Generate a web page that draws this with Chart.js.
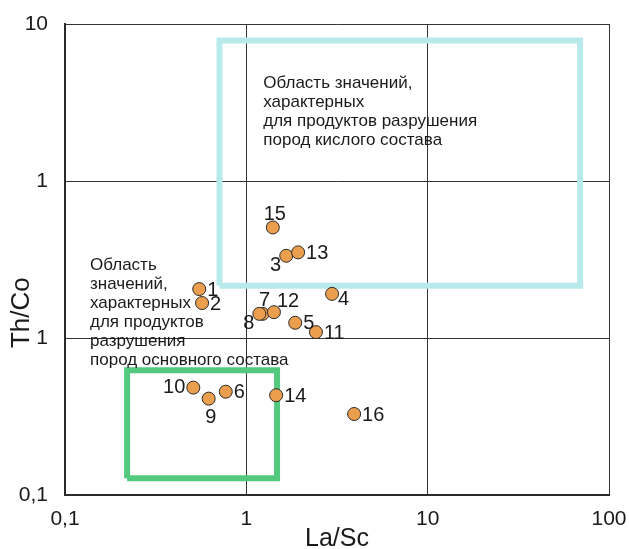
<!DOCTYPE html>
<html>
<head>
<meta charset="utf-8">
<script src="https://cdn.jsdelivr.net/npm/chart.js@4.4.1/dist/chart.umd.min.js"></script>
<style>
  html, body { margin: 0; padding: 0; background: #fff; }
  #wrap { width: 629px; height: 549px; }
</style>
</head>
<body>
<div id="wrap"><canvas id="grafico"></canvas></div>
<script>
  // Номера проб и значения La/Sc, Th/Co
  const nombres = ["1", "2", "3", "4", "5", "6", "7", "8", "9", "10", "11", "12", "13", "14", "15", "16"];
  const laSc = [0.55, 0.57, 1.66, 2.97, 1.86, 0.77, 1.23, 1.18, 0.62, 0.51, 2.42, 1.42, 1.93, 1.46, 1.40, 3.93];
  const thCo = [0.205, 0.167, 0.334, 0.191, 0.125, 0.0455, 0.1425, 0.1425, 0.0411, 0.0483, 0.109, 0.146, 0.351, 0.0432, 0.506, 0.0328];
  // где подписать номер относительно точки
  const lugar = ["r", "r", "lb", "rb", "r", "r", "a", "lb", "b", "l", "r", "ra", "r", "r", "a", "r"];

  // Деления осей
  const xTicks = [0.1, 1, 10, 100];
  const xEtiquetas = ["0,1", "1", "10", "100"];
  const yTicks = [0.01, 0.1, 1, 10];
  const yEtiquetas = ["0,1", "1", "1", "10"];

  // Области (углы прямоугольников)
  const acidoX = [0.711, 69.3];
  const acidoY = [0.215, 7.85];
  const basicoX = [0.22, 1.477];
  const basicoY = [0.0128, 0.0624];

  const textoAcido = ["Область значений,", "характерных", "для продуктов разрушения", "пород кислого состава"];
  const textoBasico = ["Область", "значений,", "характерных", "для продуктов", "разрушения", "пород основного состава"];

  function rect(xs, ys) {
    return [
      { x: xs[0], y: ys[0] }, { x: xs[1], y: ys[0] },
      { x: xs[1], y: ys[1] }, { x: xs[0], y: ys[1] },
      { x: xs[0], y: ys[0] }
    ];
  }

  const fuente = "'Liberation Sans', Arial, sans-serif";

  const offsets = {
    r: [8, 1, "left"],
    l: [-8, 0, "right"],
    a: [2, -13, "center"],
    b: [2, 19, "center"],
    lb: [-5, 10, "right"],
    rb: [6, 6, "left"],
    ra: [3, -11, "left"]
  };

  const etiquetasPlugin = {
    id: "etiquetas",
    afterDraw(chart) {
      const ctx = chart.ctx;
      const xs = chart.scales.x;
      const ys = chart.scales.y;
      ctx.save();
      ctx.fillStyle = "#1a1a1a";
      ctx.textBaseline = "middle";
      ctx.font = "20px " + fuente;
      for (let i = 0; i < nombres.length; i++) {
        const px = xs.getPixelForValue(laSc[i]);
        const py = ys.getPixelForValue(thCo[i]);
        const o = offsets[lugar[i]];
        ctx.textAlign = o[2];
        ctx.fillText(nombres[i], px + o[0], py + o[1]);
      }
      // подписи областей
      ctx.font = "17px " + fuente;
      ctx.textAlign = "left";
      ctx.textBaseline = "alphabetic";
      let x0 = xs.getPixelForValue(1.24);
      let y0 = ys.getPixelForValue(3.92);
      textoAcido.forEach((t, k) => ctx.fillText(t, x0, y0 + k * 19));
      x0 = xs.getPixelForValue(0.1374);
      y0 = ys.getPixelForValue(0.2716);
      textoBasico.forEach((t, k) => ctx.fillText(t, x0, y0 + k * 19));

      // подпись оси Y
      ctx.font = "26px " + fuente;
      ctx.textAlign = "center";
      ctx.textBaseline = "middle";
      ctx.translate(22, ys.getPixelForValue(0.145));
      ctx.rotate(-Math.PI / 2);
      ctx.fillText("Th/Co", 0, 0);
      ctx.restore();
    }
  };

  function grafico() {
    const ctx = document.getElementById("grafico");
    const puntos = laSc.map((v, i) => ({ x: v, y: thCo[i] }));

    new Chart(ctx, {
      type: "scatter",
      data: {
        datasets: [
          {
            label: "кислые",
            data: rect(acidoX, acidoY),
            showLine: true,
            borderColor: "rgb(184, 234, 236)",
            borderWidth: 6,
            pointRadius: 0,
            fill: false,
            order: 3
          },
          {
            label: "основные",
            data: rect(basicoX, basicoY),
            showLine: true,
            borderColor: "rgb(82, 201, 125)",
            borderWidth: 6,
            pointRadius: 0,
            fill: false,
            order: 2
          },
          {
            label: "пробы",
            data: puntos,
            backgroundColor: "rgb(234, 158, 78)",
            borderColor: "#2a2a2a",
            borderWidth: 1,
            pointRadius: 6.5,
            order: 1
          }
        ]
      },
      options: {
        responsive: true,
        maintainAspectRatio: false,
        animation: false,
        layout: { padding: { top: 24, right: 20, left: 0, bottom: 0 } },
        plugins: {
          legend: { display: false },
          tooltip: { enabled: false }
        },
        scales: {
          x: {
            type: "logarithmic",
            min: 0.1,
            max: 100,
            z: 1,
            afterBuildTicks: (s) => { s.ticks = xTicks.map((v) => ({ value: v })); },
            afterFit: (s) => {
              s.height = 54;
              s.paddingLeft = 0;
              s.paddingRight = 0;
            },
            ticks: {
              autoSkip: false,
              maxRotation: 0,
              padding: 12,
              color: "#1a1a1a",
              font: { family: fuente, size: 21 },
              callback: (v, i) => xEtiquetas[i]
            },
            grid: { color: "#333", lineWidth: 1, drawTicks: false },
            border: { color: "#2a2a2a", width: 2 },
            title: {
              display: true,
              text: "La/Sc",
              color: "#1a1a1a",
              font: { family: fuente, size: 25, lineHeight: 0.8 },
              padding: { top: 0, bottom: 0 }
            }
          },
          y: {
            type: "logarithmic",
            min: 0.01,
            max: 10,
            z: 1,
            afterBuildTicks: (s) => { s.ticks = yTicks.map((v) => ({ value: v })); },
            afterFit: (s) => {
              s.width = 65;
              s.paddingTop = 0;
              s.paddingBottom = 0;
            },
            ticks: {
              autoSkip: false,
              padding: 17,
              color: "#1a1a1a",
              font: { family: fuente, size: 21 },
              callback: (v, i) => yEtiquetas[i]
            },
            grid: { color: "#333", lineWidth: 1, drawTicks: false },
            border: { color: "#2a2a2a", width: 2 }
          }
        }
      },
      plugins: [etiquetasPlugin]
    });
  }

  document.addEventListener("DOMContentLoaded", grafico);
</script>
</body>
</html>
